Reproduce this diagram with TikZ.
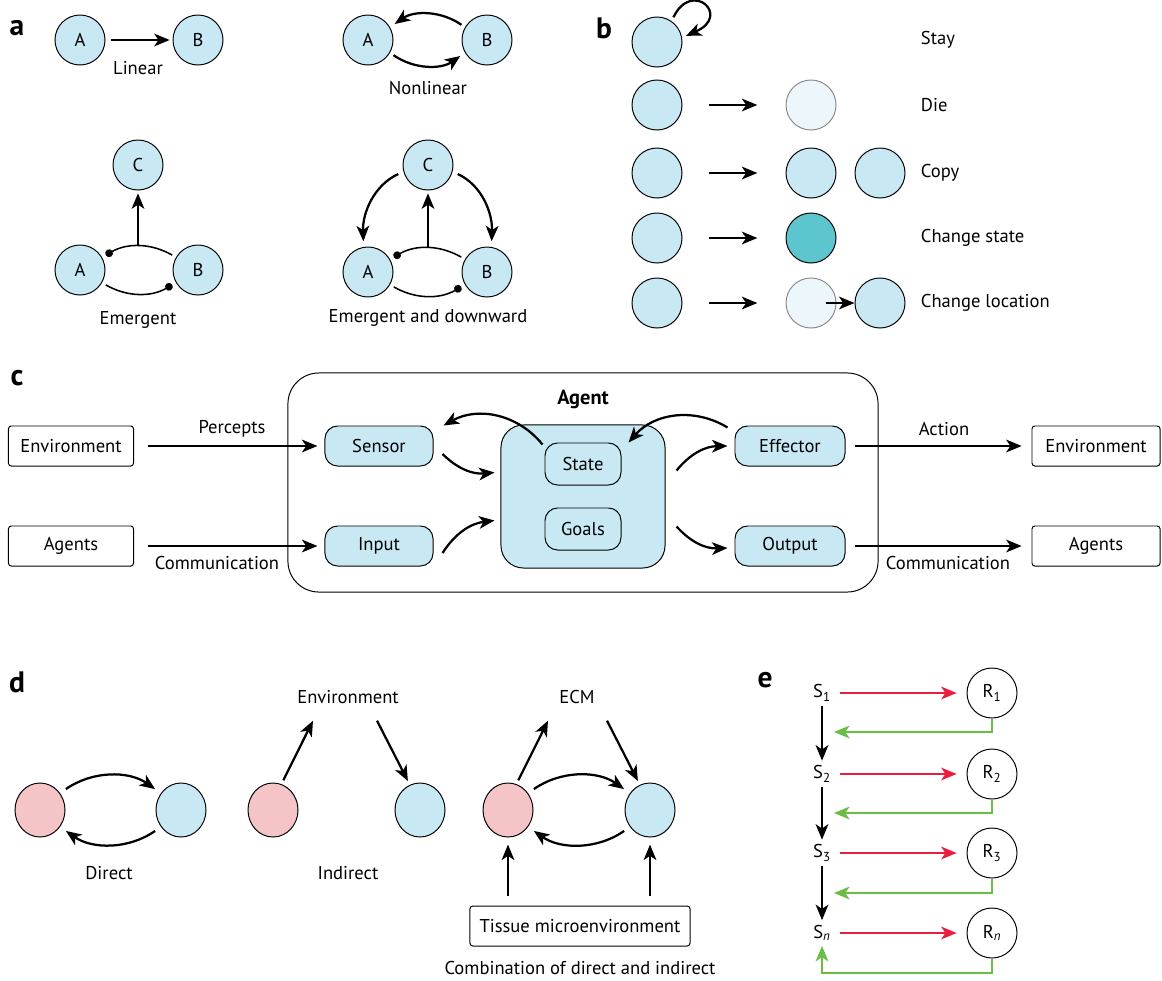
\documentclass[tikz,border=0pt]{standalone}
\usepackage{fontspec}
\setmainfont{PT Sans}
\usetikzlibrary{arrows.meta,shapes.geometric}
\definecolor{celeste}{HTML}{C8E9F4}
\definecolor{pallido}{HTML}{EDF6FB}
\definecolor{grigio}{HTML}{8A8A8A}
\definecolor{petrolio}{HTML}{5CC5CE}
\definecolor{rosa}{HTML}{F5C4C6}
\definecolor{rosso}{HTML}{EA1D3E}
\definecolor{verde}{HTML}{6ABD45}

\begin{document}
\begin{tikzpicture}[x=0.025cm,y=0.025cm,font=\fontsize{13.2}{15}\selectfont,
		cella/.style={circle,draw,line width=0.7pt,fill=celeste,minimum size=1.25cm,inner sep=0pt},
		morta/.style={cella,draw=grigio,fill=pallido},
		cellula/.style={ellipse,draw,line width=0.7pt,minimum width=1.25cm,minimum height=1.35cm},
		scatola/.style={draw,line width=0.7pt,rounded corners=2pt,minimum height=1cm},
		modulo/.style={draw,line width=0.7pt,fill=celeste,rounded corners=9pt,minimum height=1cm},
		freccia/.style={line width=1.6pt,-{Stealth[length=11pt,width=9pt,inset=3pt]}},
		punto/.style={line width=1.1pt,-{Circle[length=5.5pt]}},
		lettera/.style={font=\fontsize{21}{24}\selectfont\bfseries}]
		%\draw [help lines,step=50] (0,-980) grid (1162,0);
		\useasboundingbox (0,0) rectangle (1162,-980);
		
		%PANNELLO A
		\node[lettera] (la) at (17,-28) {a};
		%lineare
		\node[cella] (linA) at (80,-40) {A};
		\node[cella] (linB) at (198,-40) {B};
		\draw[freccia,shorten <=4pt,shorten >=2pt] (linA) -- (linB);
		\node (lin) at (138,-68) {Linear};
		%non lineare
		\node[cella] (nlA) at (368,-40) {A};
		\node[cella] (nlB) at (487,-40) {B};
		\draw[freccia,shorten <=3pt,shorten >=4pt] (nlB.150) to[bend right=35] (nlA.30);
		\draw[freccia,shorten <=3pt,shorten >=4pt] (nlA.-30) to[bend right=35] (nlB.-150);
		\node (nl) at (428,-88) {Nonlinear};
		%emergente
		\node[cella] (emC) at (138,-165) {C};
		\node[cella] (emA) at (80,-270) {A};
		\node[cella] (emB) at (198,-270) {B};
		\coordinate (emO) at (138,-246);
		\draw[freccia,shorten >=2pt] (emO) -- (emC);
		\draw[punto,shorten <=3pt,shorten >=3pt] (emB.150) to[bend right=30] (emA.30);
		\draw[punto,shorten <=3pt,shorten >=3pt] (emA.-30) to[bend right=30] (emB.-150);
		\node (em) at (138,-320) {Emergent};
		%emergente e verso il basso
		\node[cella] (dwC) at (428,-165) {C};
		\node[cella] (dwA) at (368,-272) {A};
		\node[cella] (dwB) at (487,-272) {B};
		\coordinate (dwO) at (428,-248);
		\draw[freccia,shorten >=2pt] (dwO) -- (dwC);
		\draw[freccia,shorten <=4pt,shorten >=4pt] (dwC.195) to[out=205,in=92] (dwA.100);
		\draw[freccia,shorten <=4pt,shorten >=4pt] (dwC.-15) to[out=-25,in=88] (dwB.80);
		\draw[punto,shorten <=3pt,shorten >=3pt] (dwB.150) to[bend right=30] (dwA.30);
		\draw[punto,shorten <=3pt,shorten >=3pt] (dwA.-30) to[bend right=30] (dwB.-150);
		\node (dw) at (428,-318) {Emergent and downward};
		
		%PANNELLO B
		\node[lettera] (lb) at (604,-28) {b};
		\foreach \r/\y in {1/42,2/105,3/173,4/238,5/303}
			\node[cella] (b\r) at (657,-\y) {};
		\node[morta] (muore) at (811,-105) {};
		\node[cella] (copia) at (811,-173) {};
		\node[cella] (copia2) at (880,-173) {};
		\node[cella,fill=petrolio] (stato2) at (811,-238) {};
		\node[morta] (sposta) at (811,-303) {};
		\node[cella] (sposta2) at (880,-303) {};
		\draw[freccia,shorten <=3pt,shorten >=3pt] (b1.55) .. controls +(20,42) and +(50,22) .. (b1.10);
		\foreach \r/\t in {2/muore,3/copia,4/stato2,5/sposta}
			\draw[freccia,shorten <=19pt,shorten >=20pt] (b\r) -- (\t);
		\draw[freccia] ([shift={(15,0)}]sposta.center) -- (sposta2);
		\node[anchor=west] (resta) at (916,-40) {Stay};
		\node[anchor=west] (muor) at (916,-105) {Die};
		\node[anchor=west] (cop) at (916,-173) {Copy};
		\node[anchor=west] (cst) at (916,-238) {Change state};
		\node[anchor=west] (cpos) at (916,-303) {Change location};
		
		%PANNELLO C
		\node[lettera] (lc) at (17,-378) {c};
		\node[draw,line width=0.7pt,rounded corners=22pt,minimum width=14.75cm,minimum height=5.475cm] (agente) at (583,-482.5) {};
		\node[font=\fontsize{14.5}{16}\selectfont\bfseries] (tit) at (583,-399) {Agent};
		\node[modulo,rounded corners=16pt,minimum width=4.1cm,minimum height=3.575cm] (nucleo) at (583,-496.5) {};
		\node[modulo,minimum width=1.9cm,minimum height=1.05cm] (stato) at (583,-464) {State};
		\node[modulo,minimum width=1.9cm,minimum height=1.05cm] (scopi) at (583,-529) {Goals};
		\node[scatola,minimum width=3.125cm] (ambS) at (71,-446) {Environment};
		\node[scatola,minimum width=3.125cm] (agS) at (71,-546) {Agents};
		\node[modulo,minimum width=2.7cm] (sensore) at (379,-446) {Sensor};
		\node[modulo,minimum width=2.7cm] (ingresso) at (379,-546) {Input};
		\node[modulo,minimum width=2.75cm] (effettore) at (790,-446) {Effector};
		\node[modulo,minimum width=2.75cm] (uscita) at (790,-546) {Output};
		\node[scatola,minimum width=3.2cm] (ambD) at (1096,-446) {Environment};
		\node[scatola,minimum width=3.2cm] (agD) at (1096,-546) {Agents};
		\draw[freccia,shorten <=10pt,shorten >=5pt] (ambS) -- (sensore);
		\draw[freccia,shorten <=10pt,shorten >=5pt] (agS) -- (ingresso);
		\draw[freccia,shorten <=7pt,shorten >=7pt] (effettore) -- (ambD);
		\draw[freccia,shorten <=7pt,shorten >=7pt] (uscita) -- (agD);
		\node (perc) at (232,-429) {Percepts};
		\node (com1) at (217,-563) {Communication};
		\node (azione) at (944,-429) {Action};
		\node (com2) at (948,-563) {Communication};
		%frecce curve
		\draw[freccia] ([shift={(9,-8)}]sensore.east) to[bend right=25] ([shift={(-6,24)}]nucleo.west);
		\draw[freccia] ([shift={(-2,-2)}]stato.north west) to[bend right=40] ([shift={(10,0)}]sensore.north east);
		\draw[freccia] ([shift={(9,-7)}]ingresso.east) to[bend left=25] ([shift={(-6,-24)}]nucleo.west);
		\draw[freccia] ([shift={(11,26)}]nucleo.east) to[bend left=25] ([shift={(-7,0)}]effettore.west);
		\draw[freccia] ([shift={(-7,-2)}]effettore.north west) to[bend right=40] ([shift={(7,0)}]stato.north east);
		\draw[freccia] ([shift={(11,-30)}]nucleo.east) to[bend right=25] ([shift={(-7,-2)}]uscita.west);
		
		%PANNELLO D
		\node[lettera] (ld) at (17,-682) {d};
		%diretto
		\node[cellula,fill=rosa] (rosa1) at (40,-810) {};
		\node[cellula,fill=celeste] (cel1) at (181,-810) {};
		\draw[freccia,shorten <=5pt,shorten >=5pt] (rosa1.40) to[bend left=35] (cel1.140);
		\draw[freccia,shorten <=5pt,shorten >=5pt] (cel1.-140) to[bend left=35] (rosa1.-40);
		\node (dir) at (109,-873) {Direct};
		%indiretto
		\node[cellula,fill=rosa] (rosa2) at (273,-810) {};
		\node[cellula,fill=celeste] (cel2) at (420,-810) {};
		\node (amb) at (348,-697) {Environment};
		\draw[freccia,shorten <=3pt] (rosa2.72) -- ([shift={(-35,-12)}]amb.south);
		\draw[freccia,shorten >=3pt] ([shift={(29,-12)}]amb.south) -- (cel2.112);
		\node (ind) at (348,-873) {Indirect};
		%combinazione
		\node[cellula,fill=rosa] (rosa3) at (508,-810) {};
		\node[cellula,fill=celeste] (cel3) at (650,-810) {};
		\node (ecm) at (577,-697) {ECM};
		\draw[freccia,shorten <=5pt,shorten >=5pt] (rosa3.40) to[bend left=35] (cel3.140);
		\draw[freccia,shorten <=5pt,shorten >=5pt] (cel3.-140) to[bend left=35] (rosa3.-40);
		\draw[freccia,shorten <=3pt] (rosa3.72) -- ([shift={(-29,-12)}]ecm.south);
		\draw[freccia,shorten >=3pt] ([shift={(30,-12)}]ecm.south) -- (cel3.112);
		\node[scatola,minimum width=5.5cm] (tessuto) at (580,-926) {Tissue microenvironment};
		\draw[freccia,shorten <=7pt,shorten >=5pt] (tessuto.north -| rosa3) -- (rosa3);
		\draw[freccia,shorten <=7pt,shorten >=5pt] (tessuto.north -| cel3) -- (cel3);
		\node (comb) at (580,-968) {Combination of direct and indirect};
		
		%PANNELLO E
		\node[lettera] (le) at (765,-680) {e};
		\foreach \i/\t/\y/\g in {1/1/693/732,2/2/774/813,3/3/853/893,4/\textit{n}/933/973}{
			\node (s\i) at (822,-\y) {S\textsubscript{\t}};
			\node[circle,draw,line width=0.7pt,minimum size=1.25cm,inner sep=0pt] (ris\i) at (992,-\y) {R\textsubscript{\t}};
			\draw[freccia,rosso,shorten <=3pt,shorten >=7pt] (s\i) -- (ris\i);
			\coordinate (g\i) at (834,-\g);
		}
		\foreach \i in {1,2,3}
			\draw[freccia,verde] (ris\i.south) |- (g\i);
		\draw[freccia,verde] (ris4.south) |- (822,-973) -- (s4);
		\draw[freccia] (s1) -- (s2);
		\draw[freccia] (s2) -- (s3);
		\draw[freccia] (s3) -- (s4);
		
\end{tikzpicture}
\end{document}
